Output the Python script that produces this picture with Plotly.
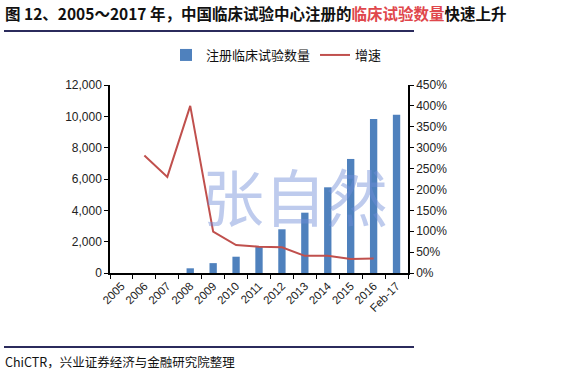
import plotly.graph_objects as go

categories = ["2005", "2006", "2007", "2008", "2009", "2010", "2011", "2012",
              "2013", "2014", "2015", "2016", "Feb-17"]
trial_counts = [0, 0, 0, 300, 630, 1040, 1680, 2790, 3850, 5470, 7280, 9830, 10100]
growth = [None, 2.81, 2.30, 4.00, 0.99, 0.67, 0.63, 0.615, 0.41, 0.41, 0.335, 0.35, None]

bar_name = "注册临床试验数量"
line_name = "增速"
title_parts = ["图 12、2005～2017 年，中国临床试验中心注册的", "临床试验数量", "快速上升"]
source_text = "ChiCTR，兴业证券经济与金融研究院整理"
watermark = "张自然"

W, H = 567, 373
L, R, T, B = 110, 408, 85, 273  # plot area in pixels

def px(x):
    return (x - L) / (R - L)

def py(y):
    return (B - y) / (B - T)

fig = go.Figure()
fig.add_trace(go.Bar(x=categories, y=trial_counts, name=bar_name,
                     marker=dict(color="#4F81BD", line=dict(width=0)), yaxis="y"))
fig.add_trace(go.Scatter(x=categories, y=growth, name=line_name, mode="lines",
                         line=dict(color="#C0504D", width=2), yaxis="y2"))

tick_font = dict(family="Liberation Sans, Arial", size=12, color="#222")
fig.update_layout(
    width=W, height=H, autosize=False,
    margin=dict(l=L, r=W - R, t=T, b=H - B, pad=0),
    plot_bgcolor="white", paper_bgcolor="white",
    bargap=0.68,
    showlegend=True,
    legend=dict(orientation="h", x=px(166), y=py(55), xanchor="left", yanchor="middle",
                font=dict(family="Noto Sans CJK SC", size=13, color="#111"),
                itemwidth=30, tracegroupgap=0, bgcolor="rgba(0,0,0,0)"),
    xaxis=dict(type="category", showgrid=False, showline=True, linecolor="#000", linewidth=1.5,
               ticks="outside", tickson="boundaries", ticklen=4, tickcolor="#000",
               tickangle=-45, automargin=False,
               tickfont=dict(family="Liberation Sans, Arial", size=11.5, color="#222")),
    yaxis=dict(range=[0, 12000], dtick=2000, tickformat=",", showgrid=False, showline=True,
               linecolor="#000", linewidth=1.5, ticks="outside", ticklen=4, tickcolor="#000",
               tickfont=tick_font, zeroline=False, automargin=False),
    yaxis2=dict(range=[0, 4.5], dtick=0.5, tickformat=".0%", overlaying="y", side="right",
                showgrid=False, showline=True, linecolor="#000", linewidth=1.5,
                ticks="outside", ticklen=4, tickcolor="#000", tickfont=tick_font,
                zeroline=False, automargin=False),
)

title_html = (f"<b>{title_parts[0]}<span style='color:#E0474C'>{title_parts[1]}</span>"
              f"{title_parts[2]}</b>")
fig.add_annotation(text=title_html, xref="paper", yref="paper", x=px(3), y=py(13),
                   xanchor="left", yanchor="middle", showarrow=False,
                   font=dict(family="Noto Sans CJK SC", size=15.5, color="#111"))
fig.add_annotation(text=source_text, xref="paper", yref="paper", x=px(3), y=py(361),
                   xanchor="left", yanchor="middle", showarrow=False,
                   font=dict(family="Noto Sans CJK SC", size=12.5, color="#111"))
fig.add_annotation(text=watermark, xref="paper", yref="paper", x=px(295), y=py(195),
                   xanchor="center", yanchor="middle", showarrow=False,
                   font=dict(family="Noto Sans CJK SC", size=62, color="rgba(110,140,215,0.45)"))

fig.add_shape(type="line", xref="paper", yref="paper", x0=px(4), x1=px(414), y0=py(31), y1=py(31),
              line=dict(color="#2B2B5C", width=2))
fig.add_shape(type="line", xref="paper", yref="paper", x0=px(4), x1=px(414), y0=py(347), y1=py(347),
              line=dict(color="#2B2B5C", width=2))

fig.write_html("out.html", config={"displayModeBar": False},
               post_script="document.body.style.margin='0';document.body.style.overflow='hidden';")
